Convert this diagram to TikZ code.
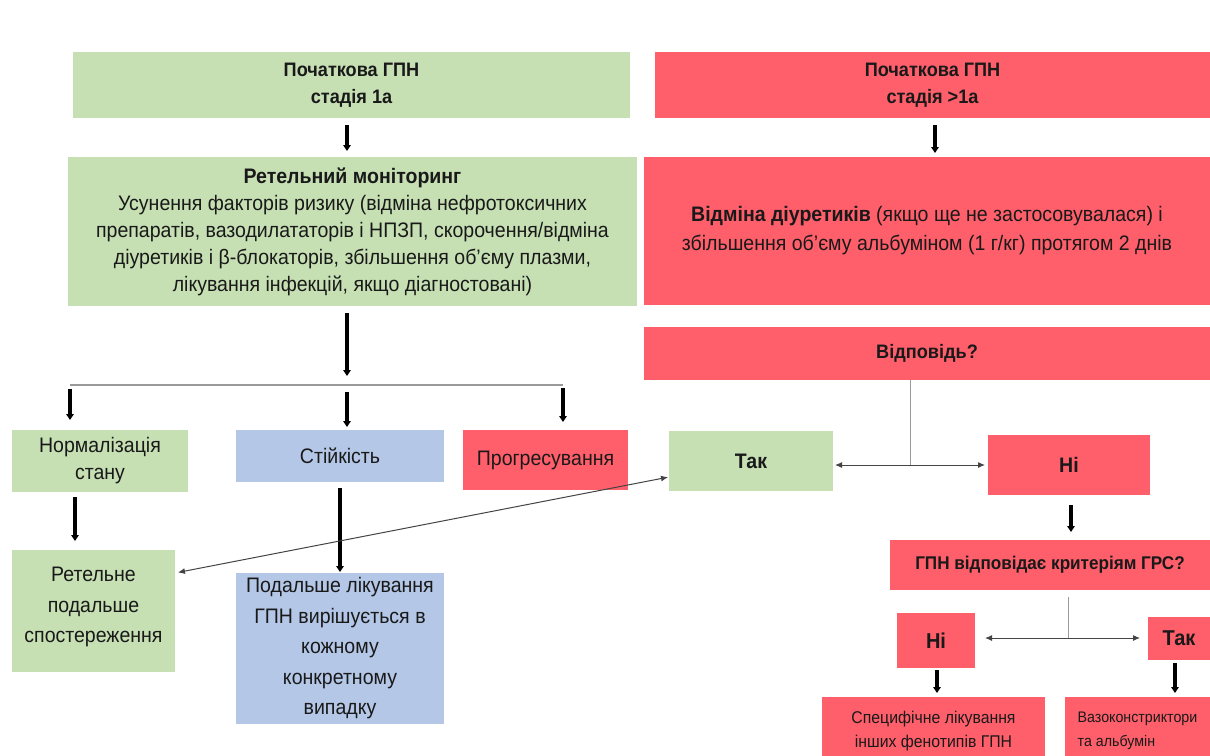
\documentclass[tikz,border=0pt]{standalone}
\usepackage{fontspec}
\setmainfont{Liberation Sans}[FakeStretch=0.93]
\usetikzlibrary{arrows.meta,calc}
\definecolor{gr}{HTML}{C6E0B4}
\definecolor{rd}{HTML}{FF5F6A}
\definecolor{bl}{HTML}{B4C7E7}
\definecolor{ln}{HTML}{444444}
\definecolor{lg}{HTML}{9A9A9A}
\tikzset{
  box/.style={inner sep=2pt, outer sep=0pt, align=center, text=black!90},
  tarr/.style={line width=3.4pt, -{Triangle[length=6pt,width=7.5pt]}},
  tline/.style={line width=1pt, draw=lg},
  darr/.style={line width=1pt, draw=ln, {Latex[length=7pt,width=6pt]}-{Latex[length=7pt,width=6pt]}},
}
\begin{document}
\begin{tikzpicture}[x=1pt,y=-1pt]
\useasboundingbox[fill=white] (0,0) rectangle (1210,755);
% top row
\node[box, fill=gr, minimum width=557, minimum height=66, font=\fontsize{19.5}{27}\selectfont\bfseries] (A1) at (351.5,85) {Початкова ГПН\\стадія 1а};
\node[box, fill=rd, minimum width=555, minimum height=66, font=\fontsize{19.5}{27}\selectfont\bfseries] (B1) at (932.5,85) {Початкова ГПН\\стадія >1а};
% second row
\node[box, fill=gr, minimum width=569, minimum height=149, font=\fontsize{21}{27}\selectfont] (A2) at (352.5,231.5) {\textbf{Ретельний моніторинг}\\Усунення факторів ризику (відміна нефротоксичних\\препаратів, вазодилататорів і НПЗП, скорочення/відміна\\діуретиків і β-блокаторів, збільшення об'єму плазми,\\лікування інфекцій, якщо діагностовані)};
\node[box, fill=rd, minimum width=566, minimum height=148, font=\fontsize{21}{29}\selectfont] (B2) at (927,231) {\textbf{Відміна діуретиків} (якщо ще не застосовувалася) і\\збільшення об'єму альбуміном (1 г/кг) протягом 2 днів};
\node[box, fill=rd, minimum width=566, minimum height=53, font=\fontsize{19.5}{26}\selectfont\bfseries] (V) at (927,353.5) {Відповідь?};
% third row left
\node[box, fill=gr, minimum width=176, minimum height=62, font=\fontsize{21}{27}\selectfont] (N) at (100,461) {Нормалізація\\стану};
\node[box, fill=bl, minimum width=208, minimum height=52, font=\fontsize{21}{27}\selectfont] (S) at (340,456) {Стійкість};
\node[box, fill=rd, minimum width=165, minimum height=60, font=\fontsize{21}{27}\selectfont] (P) at (545.5,460) {Прогресування};
% right
\node[box, fill=gr, minimum width=164, minimum height=60, font=\fontsize{21}{27}\selectfont\bfseries] (T) at (751,461) {Так};
\node[box, fill=rd, minimum width=162, minimum height=60, font=\fontsize{21}{27}\selectfont\bfseries] (H) at (1069,465) {Ні};
\node[box, fill=rd, minimum width=320, minimum height=50, font=\fontsize{18.4}{24}\selectfont\bfseries] (G) at (1050,565) {ГПН відповідає критеріям ГРС?};
\node[box, fill=rd, minimum width=78, minimum height=55, font=\fontsize{21.5}{27}\selectfont\bfseries] (H2) at (936,640.5) {Ні};
\node[box, fill=rd, minimum width=62, minimum height=43, font=\fontsize{21.5}{27}\selectfont\bfseries] (T2) at (1179,638.5) {Так};
\node[box, fill=rd, minimum width=223, minimum height=68, font=\fontsize{17}{23.5}\selectfont] (SP) at (933.5,731) {Специфічне лікування\\інших фенотипів ГПН};
\node[box, fill=rd, minimum width=145, minimum height=68, align=left, font=\fontsize{15.3}{23.5}\selectfont] (VZ) at (1137.5,731) {Вазоконстриктори\\та альбумін};
% bottom left
\node[box, fill=gr, minimum width=163, minimum height=122, font=\fontsize{21}{30.5}\selectfont] (R) at (93.5,611) {Ретельне\\подальше\\спостереження\\[-18.5pt]};
\node[box, fill=bl, minimum width=208, minimum height=151, font=\fontsize{21}{30.5}\selectfont] (PD) at (340,648.5) {Подальше лікування\\ГПН вирішується в\\кожному\\конкретному\\випадку};
% coordinates
\coordinate (br) at (347,385);
\coordinate (bl) at (70,385);
\coordinate (brr) at (563,385);
\coordinate (j1) at (910,465);
\coordinate (j2) at (1068,638);
\coordinate (xb) at (935,0);
\coordinate (xn) at (75,0);
\coordinate (xh) at (1071,0);
\coordinate (xs) at (937,0);
\coordinate (xv) at (1175,0);
% connectors
\draw[tarr, shorten <=7pt, shorten >=6pt] (A1.south -| br) -- (A2.north -| br);
\draw[tarr, shorten <=7pt, shorten >=4pt] (B1.south -| xb) -- (B2.north -| xb);
\draw[tarr, shorten <=7pt, shorten >=9pt] (A2.south -| br) -- (br);
\draw[line width=2pt, draw=lg] (bl) -- (brr);
\draw[tarr, shorten <=4pt, shorten >=10pt] (bl) -- (bl |- N.north);
\draw[tarr, shorten <=7pt, shorten >=3pt] (br) -- (br |- S.north);
\draw[tarr, shorten <=3pt, shorten >=8pt] (brr) -- (brr |- P.north);
\draw[tarr, shorten <=5pt, shorten >=9pt] (N.south -| xn) -- (R.north -| xn);
\draw[tarr, shorten <=6pt, shorten >=1pt] (S.south) -- (PD.north);
\draw[tline] (V.south -| j1) -- (j1);
\draw[darr, shorten <=2pt, shorten >=3pt] (T.east |- j1) -- (H.west |- j1);
\draw[tarr, shorten <=10pt, shorten >=8pt] (H.south -| xh) -- (G.north -| xh);
\draw[tline] ($(G.south -| j2)+(0,7)$) -- (j2);
\draw[darr, shorten <=10pt, shorten >=8pt] (H2.east |- j2) -- (T2.west |- j2);
\draw[tarr, shorten <=2pt, shorten >=4pt] (H2.south -| xs) -- (SP.north -| xs);
\draw[tarr, shorten <=3pt, shorten >=4pt] (T2.south -| xv) -- (VZ.north -| xv);
\draw[darr, shorten <=3pt, shorten >=1pt] ($(R.east)+(0,-38)$) -- ($(T.west)+(0,16)$);
\end{tikzpicture}
\end{document}
